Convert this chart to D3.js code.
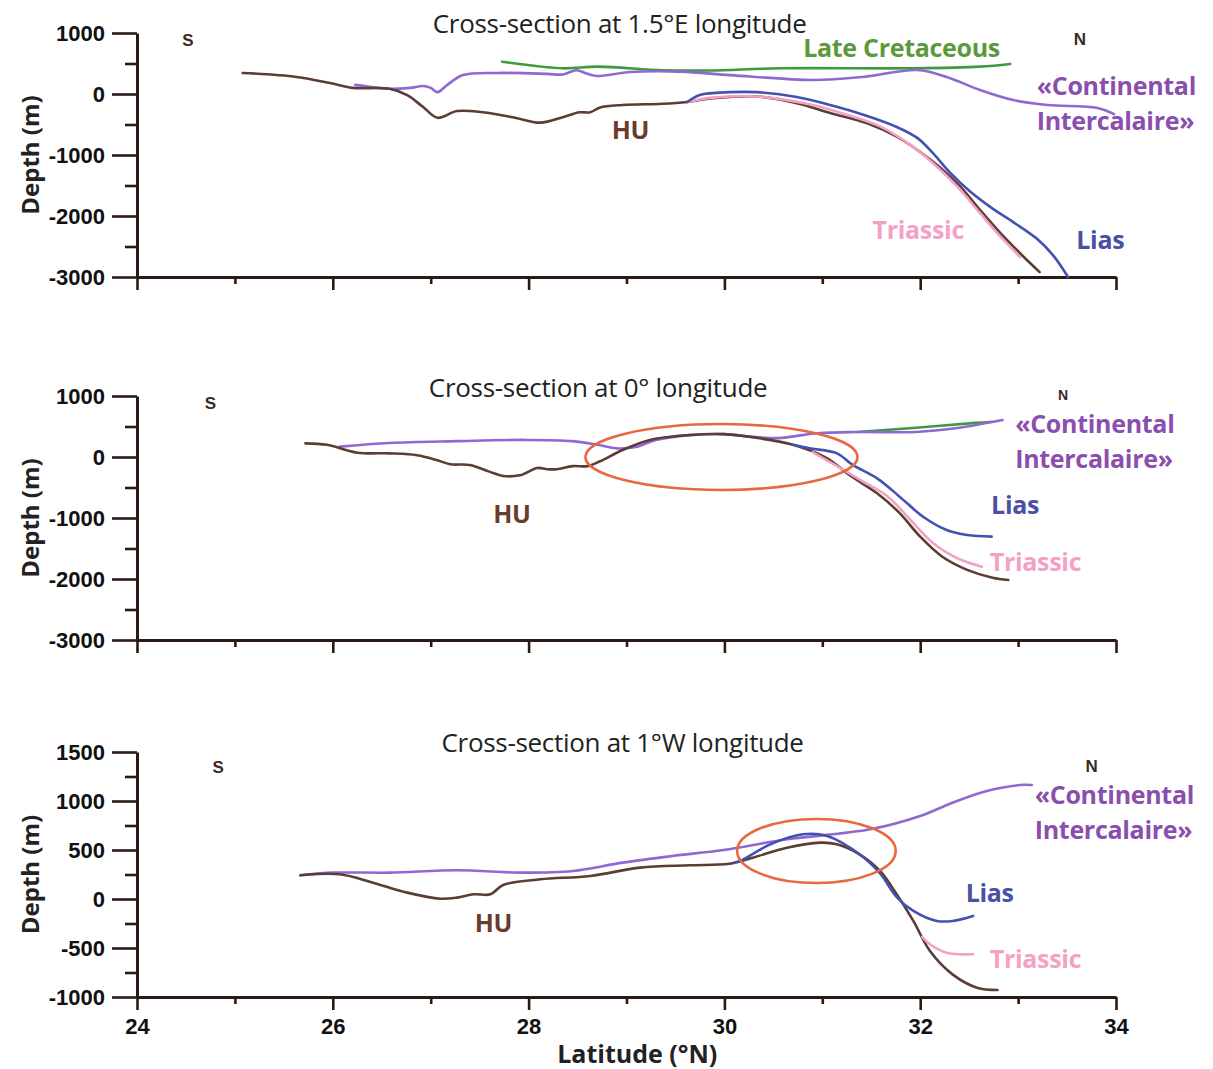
<!DOCTYPE html>
<html><head><meta charset="utf-8">
<script src="https://cdn.jsdelivr.net/npm/d3@7"></script>
<style>body{margin:0;background:#fff}svg{display:block}</style>
</head><body>
<svg id="c" width="1213" height="1069"></svg>
<script>
// ---------- DATA ----------
const latTicks = [24,25,26,27,28,29,30,31,32,33,34];
const latLabels = [24,26,28,30,32,34];
const depthTicksA = [-3000,-2000,-1000,0,1000];
const depthMinorA = [-2500,-1500,-500,500];
const depthTicksC = [-1000,-500,0,500,1000,1500];
const depthMinorC = [-750,-250,250,750,1250];

// Panel 1 : 1.5°E
const p1_HU = [[25.08,345],[25.63,280],[25.97,180],[26.2,100],[26.58,85],[26.76,-20],[26.92,-210],[27.07,-390],[27.27,-280],[27.53,-300],[27.84,-380],[28.12,-470],[28.35,-380],[28.52,-300],[28.63,-300],[28.73,-220],[28.96,-180],[29.37,-160],[29.62,-130],[29.88,-70],[30.33,-40],[30.74,-150],[31.08,-310],[31.46,-480],[31.76,-700],[32.0,-950],[32.2,-1200],[32.41,-1520],[32.61,-1900],[32.82,-2280],[33.02,-2610],[33.22,-2920]];
const p1_Triassic = [[29.62,-130],[29.88,-60],[30.33,-40],[30.9,-180],[31.25,-340],[31.6,-540],[31.93,-870],[32.13,-1130],[32.38,-1520],[32.61,-1950],[32.82,-2340],[33.02,-2670]];
const p1_Lias = [[29.62,-130],[29.75,-15],[30.06,30],[30.33,30],[30.74,-50],[31.08,-180],[31.42,-340],[31.76,-540],[31.97,-720],[32.13,-970],[32.3,-1280],[32.51,-1600],[32.74,-1880],[32.95,-2100],[33.19,-2370],[33.36,-2650],[33.51,-3000]];
const p1_CI = [[26.23,150],[26.58,85],[26.79,100],[26.92,130],[27.0,100],[27.07,30],[27.17,150],[27.33,310],[27.68,345],[28.19,330],[28.35,320],[28.49,390],[28.6,330],[28.7,295],[29.04,360],[29.55,366],[30.06,310],[30.9,230],[31.42,280],[31.97,393],[32.27,280],[32.61,66],[32.95,-98],[33.3,-180],[33.81,-230],[33.98,-330]];
const p1_LateCret = [[27.73,530],[28.35,421],[28.7,448],[29.37,390],[29.85,385],[30.57,421],[31.93,421],[32.61,448],[32.92,492]];

// Panel 2 : 0°
const p2_HU = [[25.72,224],[25.94,200],[26.25,71],[26.58,60],[26.86,30],[27.06,-49],[27.2,-120],[27.4,-130],[27.6,-240],[27.74,-311],[27.91,-300],[28.09,-180],[28.19,-200],[28.29,-200],[28.45,-150],[28.6,-150],[28.73,-70],[28.96,115],[29.24,280],[29.65,361],[29.99,375],[30.36,306],[30.7,200],[31.05,-21],[31.28,-300],[31.56,-595],[31.79,-920],[32.0,-1306],[32.23,-1640],[32.48,-1850],[32.74,-1980],[32.9,-2016]];
const p2_Triassic = [[30.9,80],[31.15,-150],[31.39,-380],[31.67,-650],[31.9,-1030],[32.13,-1410],[32.38,-1660],[32.63,-1800]];
const p2_Lias = [[30.7,200],[30.87,142],[31.15,60],[31.31,-130],[31.56,-350],[31.79,-650],[32.03,-980],[32.27,-1197],[32.48,-1280],[32.73,-1306]];
const p2_CI = [[26.07,170],[26.58,230],[27.27,260],[27.94,280],[28.45,260],[28.7,200],[28.9,142],[29.11,169],[29.3,280],[29.65,358],[30.0,375],[30.3,330],[30.55,310],[30.95,390],[31.36,410],[31.96,410],[32.36,470],[32.84,605]];
const p2_LateCret = [[31.36,410],[31.96,480],[32.56,560],[32.72,575]];
const p2_Ellipse = {lat:29.97, depth:0, rLat:1.39, rDepth:540};

// Panel 3 : 1°W
const p3_HU = [[25.67,242],[26.07,252],[26.41,167],[26.76,65],[27.1,3],[27.27,14],[27.44,48],[27.61,48],[27.74,143],[28.12,201],[28.63,235],[29.14,320],[29.65,344],[30.05,360],[30.29,422],[30.64,524],[30.98,575],[31.15,558],[31.38,456],[31.59,286],[31.76,48],[31.93,-224],[32.1,-531],[32.33,-769],[32.58,-905],[32.79,-929]];
const p3_Triassic = [[32.02,-386],[32.1,-462],[32.27,-548],[32.54,-564]];
const p3_Lias = [[30.1,370],[30.16,388],[30.47,558],[30.8,660],[31.05,643],[31.38,456],[31.59,260],[31.76,20],[31.93,-122],[32.17,-224],[32.33,-224],[32.54,-173]];
const p3_CI = [[25.67,242],[26.0,269],[26.58,269],[27.27,293],[27.94,269],[28.45,286],[28.96,371],[29.47,439],[29.99,500],[30.64,609],[31.49,711],[32.0,847],[32.33,983],[32.68,1102],[33.02,1163],[33.14,1163]];
const p3_Ellipse = {lat:30.94, depth:490, rLat:0.81, rDepth:327};

const titles = ["Cross-section at 1.5°E longitude","Cross-section at 0° longitude","Cross-section at 1°W longitude"];

// ---------- STYLE ----------
const C = {HU:"#5c3d33", CI:"#9068d2", Lias:"#4352b0", Tri:"#f4a0c4", LC:"#3f9a3f", ell:"#e8683f", axis:"#2b1a14"};
const LC_ = {HU:"#6b3b2e", CI:"#8a4fae", Lias:"#4a50a4", Tri:"#f5a0c5", LC:"#5a9a3a"};

const svg = d3.select("#c");
const x = d3.scaleLinear().domain([24,34]).range([137,1116]);

const panels = [
  {dom:[-3000,1000], rng:[277,33], major:depthTicksA, minor:depthMinorA,
   series:[[p1_LateCret,C.LC],[p1_CI,C.CI],[p1_HU,C.HU],[p1_Triassic,C.Tri],[p1_Lias,C.Lias]],
   ellipse:null, title:[28.93,1000], S:[24.52,787], N:[33.63,803], nSize:17,
   labels:[["Late Cretaceous",31.81,607,"middle",LC_.LC],["«Continental",33.19,-16,"start",LC_.CI],["Intercalaire»",33.19,-590,"start",LC_.CI],["HU",29.04,-738,"middle",LC_.HU],["Triassic",31.98,-2377,"middle",LC_.Tri],["Lias",33.84,-2541,"middle",LC_.Lias]]},
  {dom:[-3000,1000], rng:[640,396], major:depthTicksA, minor:depthMinorA,
   series:[[p2_LateCret,C.LC],[p2_CI,C.CI],[p2_HU,C.HU],[p2_Triassic,C.Tri],[p2_Lias,C.Lias]],
   ellipse:p2_Ellipse, title:[28.71,984], S:[24.75,787], N:[33.46,935], nSize:14,
   labels:[["«Continental",32.97,400,"start",LC_.CI],["Intercalaire»",32.97,-180,"start",LC_.CI],["Lias",32.97,-934,"middle",LC_.Lias],["Triassic",32.71,-1869,"start",LC_.Tri],["HU",27.83,-1082,"middle",LC_.HU]]},
  {dom:[-1000,1500], rng:[997,752], major:depthTicksC, minor:depthMinorC,
   series:[[p3_CI,C.CI],[p3_HU,C.HU],[p3_Triassic,C.Tri],[p3_Lias,C.Lias]],
   ellipse:p3_Ellipse, title:[28.96,1500], S:[24.83,1286], N:[33.75,1296], nSize:17,
   labels:[["«Continental",33.17,969,"start",LC_.CI],["Intercalaire»",33.17,612,"start",LC_.CI],["Lias",32.71,-31,"middle",LC_.Lias],["Triassic",32.71,-704,"start",LC_.Tri],["HU",27.64,-337,"middle",LC_.HU]]}
];

const FONT = "'Open Sans', 'Noto Sans', sans-serif";
const TFONT = "'Liberation Sans', Arial, sans-serif";
const plain = d => String(d);

panels.forEach((p, i) => {
  const y = d3.scaleLinear().domain(p.dom).range(p.rng);
  const g = svg.append("g");

  const ya = g.append("g").attr("transform", `translate(${x(24)},0)`)
    .call(d3.axisLeft(y).tickValues(p.major).tickSize(25).tickSizeOuter(0).tickPadding(7).tickFormat(plain));
  const ym = g.append("g").attr("transform", `translate(${x(24)},0)`)
    .call(d3.axisLeft(y).tickValues(p.minor).tickSize(12).tickFormat(""));
  ym.select(".domain").remove();

  const xa = g.append("g").attr("transform", `translate(0,${p.rng[0]})`)
    .call(d3.axisBottom(x).tickValues(latLabels).tickSize(13).tickSizeOuter(0).tickPadding(8)
      .tickFormat(i === 2 ? plain : ""));
  const xm = g.append("g").attr("transform", `translate(0,${p.rng[0]})`)
    .call(d3.axisBottom(x).tickValues(latTicks.filter(t => t % 2)).tickSize(7).tickFormat(""));
  xm.select(".domain").remove();

  [ya, ym, xa, xm].forEach(a => {
    a.selectAll(".domain").attr("stroke", C.axis).attr("stroke-width", 3);
    a.selectAll(".tick line").attr("stroke", C.axis).attr("stroke-width", 2.6);
    a.selectAll(".tick text").attr("fill", "#111").style("font-family", TFONT)
      .style("font-size", "22px").style("font-weight", "bold");
  });
  ya.selectAll(".tick text").attr("dy", "0.36em");

  g.append("text")
    .attr("transform", `translate(39,${(p.rng[0] + p.rng[1]) / 2}) rotate(-90)`)
    .attr("text-anchor", "middle").attr("fill", "#222")
    .style("font-family", FONT).style("font-size", "24px").style("font-weight", "bold")
    .text("Depth (m)");

  const line = d3.line().x(d => x(d[0])).y(d => y(d[1])).curve(d3.curveCatmullRom.alpha(0.5));
  p.series.forEach(([data, col]) => {
    g.append("path").datum(data).attr("d", line).attr("fill", "none")
      .attr("stroke", col).attr("stroke-width", 2.6).attr("stroke-linejoin", "round").attr("stroke-linecap", "round");
  });

  if (p.ellipse) {
    const e = p.ellipse;
    g.append("ellipse").attr("cx", x(e.lat)).attr("cy", y(e.depth))
      .attr("rx", x(e.lat + e.rLat) - x(e.lat)).attr("ry", y(e.depth - e.rDepth) - y(e.depth))
      .attr("fill", "none").attr("stroke", C.ell).attr("stroke-width", 2.6);
  }

  g.append("text").attr("x", x(p.title[0])).attr("y", y(p.title[1]))
    .attr("text-anchor", "middle").attr("fill", "#222")
    .style("font-family", FONT).style("font-size", "26px").style("letter-spacing", "-0.3px").text(titles[i]);

  [["S", p.S, 17], ["N", p.N, p.nSize]].forEach(([t, pos, fs]) => {
    g.append("text").attr("x", x(pos[0])).attr("y", y(pos[1])).attr("text-anchor", "middle")
      .attr("fill", "#3a2a22").style("font-family", TFONT).style("font-size", fs + "px").style("font-weight", "bold").text(t);
  });

  p.labels.forEach(([t, la, de, anc, col]) => {
    g.append("text").attr("x", x(la)).attr("y", y(de)).attr("text-anchor", anc).attr("fill", col)
      .style("font-family", FONT).style("font-size", "25px").style("font-weight", "bold").style("letter-spacing", "-0.3px").text(t);
  });

  if (i === 2) {
    g.append("text").attr("x", x(29.11)).attr("y", 1063).attr("text-anchor", "middle").attr("fill", "#222")
      .style("font-family", FONT).style("font-size", "25px").style("font-weight", "bold").text("Latitude (°N)");
  }
});
</script>
</body></html>
